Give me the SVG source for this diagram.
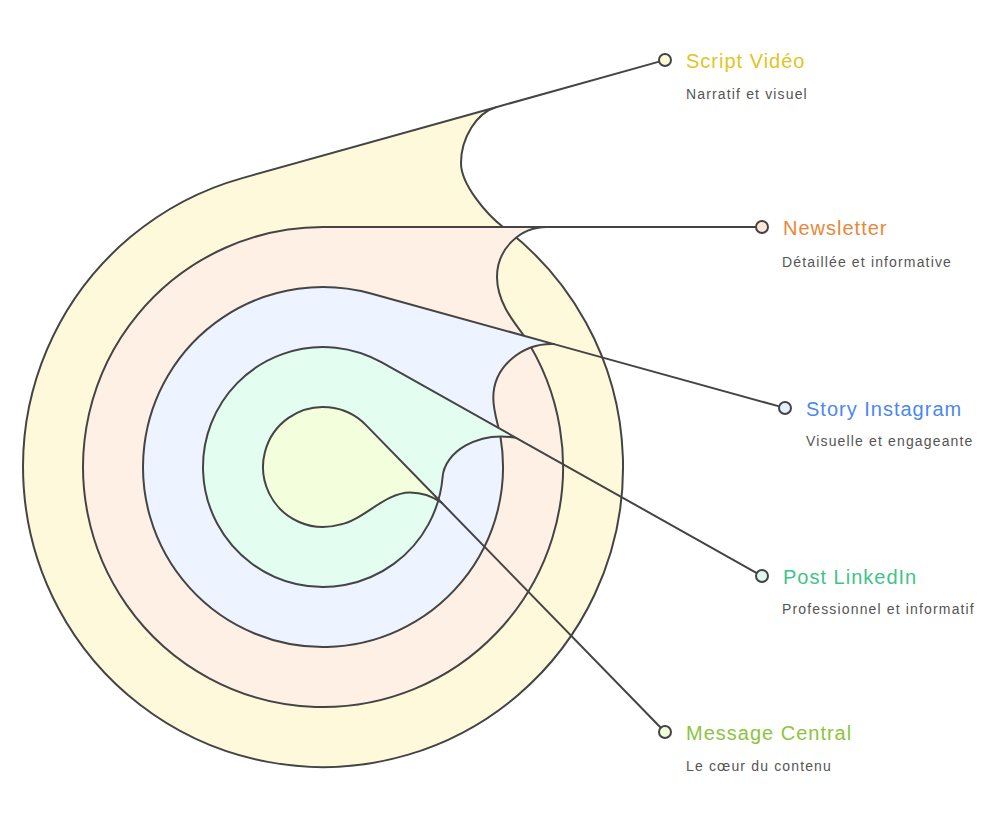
<svg xmlns="http://www.w3.org/2000/svg" width="1000" height="822" viewBox="0 0 1000 822">
  <style>
    .ring { stroke: #444444; stroke-width: 2; stroke-linejoin: round; }
    .conn { stroke: #444444; stroke-width: 2; fill: none; stroke-linecap: round; }
    .dot { stroke: #444444; stroke-width: 2; }
    .title { font-family: "Liberation Sans", Arial, sans-serif; font-size: 20px; letter-spacing: 1px; }
    .sub { font-family: "Liberation Sans", Arial, sans-serif; font-size: 14px; letter-spacing: 1.15px; fill: #555555; }
  </style>
  <rect x="0" y="0" width="1000" height="822" fill="#ffffff"/>

  <g id="layers">
    <path id="layer-script" class="ring" fill="#fff9db" d="M 242.3 178.1 L 496 107.2 C 476.7 112.6 461 138 461 163 C 461 185 487.2 214.8 503 227 A 300 300 0 1 1 242.3 178.1 Z"/>
    <path id="layer-newsletter" class="ring" fill="#fff0e5" d="M 323 227 L 547 227 C 519.4 227 497 249.4 497 277 C 497 300 511.3 319.2 523.5 335 A 240 240 0 1 1 323 227 Z"/>
    <path id="layer-story" class="ring" fill="#edf3ff" d="M 370.9 293.5 L 554 344.1 C 524 343 493.3 365 493.3 398 C 493.3 412 498.5 425.2 500.5 437 A 180 180 0 1 1 370.9 293.5 Z"/>
    <path id="layer-linkedin" class="ring" fill="#e3fdf1" d="M 381.8 362.4 L 516 437.8 C 478 431 444.5 452 442.6 477 A 120 120 0 1 1 381.8 362.4 Z"/>
    <path id="layer-central" class="ring" fill="#f3fedc" d="M 366 425.1 L 441.7 502.8 C 432 496 420 492.5 410 492.5 C 385 492.5 362 521 340.5 524.4 A 60 60 0 1 1 366 425.1 Z"/>
  </g>

  <g id="connectors">
    <line class="conn" x1="659.2" y1="61.6" x2="496" y2="107.2"/>
    <line class="conn" x1="756" y1="227" x2="547" y2="227"/>
    <line class="conn" x1="779.2" y1="406.4" x2="554" y2="344.1"/>
    <line class="conn" x1="756.8" y1="573.1" x2="516" y2="437.8"/>
    <line class="conn" x1="660.8" y1="727.7" x2="441.7" y2="502.8"/>
  </g>

  <g id="node-script">
    <circle class="dot" cx="665" cy="60" r="6" fill="#fdf8d6"/>
    <text class="title" x="686" y="68" fill="#e2c41e">Script Vidéo</text>
    <text class="sub" x="686" y="99">Narratif et visuel</text>
  </g>
  <g id="node-newsletter">
    <circle class="dot" cx="762" cy="227" r="6" fill="#fde7d7"/>
    <text class="title" x="783" y="235" fill="#e8873a">Newsletter</text>
    <text class="sub" x="782" y="267">Détaillée et informative</text>
  </g>
  <g id="node-story">
    <circle class="dot" cx="785" cy="408" r="6" fill="#e5eefc"/>
    <text class="title" x="806" y="416" fill="#4a88ee">Story Instagram</text>
    <text class="sub" x="806" y="446">Visuelle et engageante</text>
  </g>
  <g id="node-linkedin">
    <circle class="dot" cx="762" cy="576" r="6" fill="#ddf7ec"/>
    <text class="title" x="783" y="584" fill="#3ec488">Post LinkedIn</text>
    <text class="sub" x="782" y="614">Professionnel et informatif</text>
  </g>
  <g id="node-central">
    <circle class="dot" cx="665" cy="732" r="6" fill="#effbd9"/>
    <text class="title" x="686" y="740" fill="#8cc43e">Message Central</text>
    <text class="sub" x="686" y="771">Le cœur du contenu</text>
  </g>
</svg>
